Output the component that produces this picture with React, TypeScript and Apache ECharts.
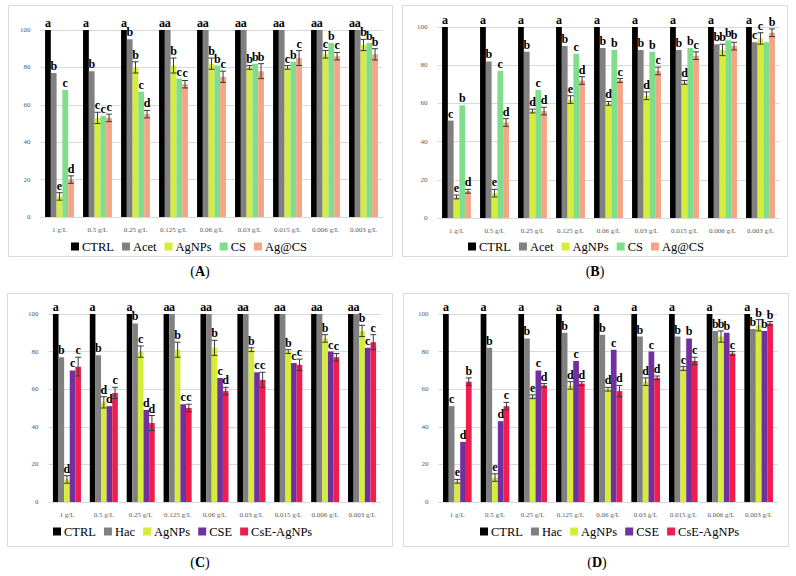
import React, { useEffect, useRef } from "react";
import * as echarts from "echarts";

const categories = ["1 g/L", "0.5 g/L", "0.25 g/L", "0.125 g/L", "0.06 g/L", "0.03 g/L", "0.015 g/L", "0.006 g/L", "0.003 g/L"];
const yTicks = [0, 20, 40, 60, 80, 100];

// Panel A
const A_names = ["CTRL", "Acet", "AgNPs", "CS", "Ag@CS"];
const A_CTRL = [100, 100, 100, 100, 100, 100, 100, 100, 100];
const A_Acet = [77, 78, 95, 100, 100, 100, 100, 100, 100];
const A_AgNPs = [11, 53, 80, 81, 82, 80, 80, 87, 92];
const A_CS = [68, 54, 67, 74, 81, 82, 83, 93, 93];
const A_AgCS = [20, 53, 55, 71, 75, 78, 85, 86, 87];
const A_AgNPs_err = [2, 3, 3, 4, 3, 1, 1, 2, 3];
const A_AgCS_err = [2, 2, 2, 2, 3, 4, 4, 2, 3];
const A_letters = [
  ["a", "a", "a", "a", "a", "a", "a", "a", "a"],
  ["b", "b", "b", "a", "a", "a", "a", "a", "a"],
  ["e", "c", "b", "b", "b", "b", "c", "c", "b"],
  ["c", "c", "c", "c", "b", "b", "b", "b", "b"],
  ["d", "c", "d", "c", "c", "b", "c", "c", "b"],
];

// Panel B
const B_names = ["CTRL", "Acet", "AgNPs", "CS", "Ag@CS"];
const B_CTRL = [100, 100, 100, 100, 100, 100, 100, 100, 100];
const B_Acet = [51, 82, 87, 90, 89, 88, 88, 91, 92];
const B_AgNPs = [11, 13, 56, 62, 60, 64, 71, 88, 94];
const B_CS = [59, 77, 67, 86, 88, 87, 89, 93, 92];
const B_AgCS = [14, 50, 56, 72, 72, 77, 85, 90, 97];
const B_AgNPs_err = [1, 2, 1, 2, 1, 2, 1, 3, 3];
const B_AgCS_err = [1, 2, 2, 2, 1, 2, 2, 2, 2];
const B_letters = [
  ["a", "a", "a", "a", "a", "a", "a", "a", "a"],
  ["c", "b", "b", "b", "b", "b", "b", "b", "c"],
  ["e", "e", "d", "e", "d", "d", "d", "b", "c"],
  ["b", "c", "c", "c", "b", "b", "b", "b", ""],
  ["d", "d", "d", "d", "c", "c", "c", "b", "b"],
];

// Panel C
const C_names = ["CTRL", "Hac", "AgNPs", "CSE", "CsE-AgNPs"];
const C_CTRL = [100, 100, 100, 100, 100, 100, 100, 100, 100];
const C_Hac = [77, 78, 95, 100, 100, 100, 100, 100, 100];
const C_AgNPs = [12, 53, 80, 81, 82, 81, 80, 87, 91];
const C_CSE = [70, 51, 49, 52, 66, 69, 74, 80, 82];
const C_CsE = [72, 58, 42, 50, 59, 65, 73, 77, 85];
const C_AgNPs_err = [2, 3, 3, 4, 4, 1, 1, 2, 3];
const C_CsE_err = [5, 3, 4, 2, 2, 4, 3, 2, 4];
const C_letters = [
  ["a", "a", "a", "a", "a", "a", "a", "a", "a"],
  ["b", "b", "b", "a", "a", "a", "a", "a", "a"],
  ["d", "d", "c", "b", "b", "b", "b", "b", "b"],
  ["c", "d", "d", "c", "c", "c", "c", "c", "c"],
  ["c", "c", "d", "c", "d", "c", "c", "c", "c"],
];

// Panel D
const D_names = ["CTRL", "Hac", "AgNPs", "CSE", "CsE-AgNPs"];
const D_CTRL = [100, 100, 100, 100, 100, 100, 100, 100, 100];
const D_Hac = [51, 82, 87, 90, 89, 88, 88, 91, 92];
const D_AgNPs = [11, 13, 56, 62, 60, 64, 71, 88, 94];
const D_CSE = [32, 43, 70, 75, 81, 80, 87, 90, 91];
const D_CsE = [64, 51, 62, 63, 59, 66, 75, 79, 95];
const D_AgNPs_err = [1, 2, 1, 2, 1, 2, 1, 3, 3];
const D_CsE_err = [2, 2, 1, 1, 3, 1, 2, 1, 1];
const D_letters = [
  ["a", "a", "a", "a", "a", "a", "a", "a", "a"],
  ["c", "b", "b", "b", "b", "b", "b", "b", "b"],
  ["e", "e", "e", "d", "d", "d", "c", "b", "b"],
  ["d", "d", "c", "c", "c", "c", "b", "b", "b"],
  ["b", "c", "d", "d", "d", "d", "c", "c", "b"],
];

const zeros = [0, 0, 0, 0, 0, 0, 0, 0, 0];

const COLORS: Record<string, string> = {
  CTRL: "#000000",
  Acet: "#808080",
  Hac: "#808080",
  AgNPs: "#d5ec3c",
  CS: "#7fdd8c",
  "Ag@CS": "#f3a586",
  CSE: "#7030a0",
  "CsE-AgNPs": "#ee1f4e",
};

const SERIF = "'Liberation Serif', 'DejaVu Serif', serif";
const GAP = 0.24;

const panels = [
  {
    label: "A", names: A_names,
    values: [A_CTRL, A_Acet, A_AgNPs, A_CS, A_AgCS],
    errors: [zeros, zeros, A_AgNPs_err, zeros, A_AgCS_err],
    letters: A_letters,
    grid: { left: 40.5, top: 30, width: 342, height: 187 },
    box: { x: 8.5, y: 5.5, w: 384, h: 251 },
    legend: { left: 71, top: 240 },
    title: { x: 200, y: 271 },
  },
  {
    label: "B", names: B_names,
    values: [B_CTRL, B_Acet, B_AgNPs, B_CS, B_AgCS],
    errors: [zeros, zeros, B_AgNPs_err, zeros, B_AgCS_err],
    letters: B_letters,
    grid: { left: 437.5, top: 27, width: 342, height: 191 },
    box: { x: 402.5, y: 5.5, w: 385, h: 251 },
    legend: { left: 468, top: 240 },
    title: { x: 595, y: 271 },
  },
  {
    label: "C", names: C_names,
    values: [C_CTRL, C_Hac, C_AgNPs, C_CSE, C_CsE],
    errors: [zeros, zeros, C_AgNPs_err, zeros, C_CsE_err],
    letters: C_letters,
    grid: { left: 48.5, top: 314, width: 332, height: 188 },
    box: { x: 7.5, y: 293.5, w: 385, h: 253 },
    legend: { left: 53, top: 525 },
    title: { x: 200, y: 562 },
  },
  {
    label: "D", names: D_names,
    values: [D_CTRL, D_Hac, D_AgNPs, D_CSE, D_CsE],
    errors: [zeros, zeros, D_AgNPs_err, zeros, D_CsE_err],
    letters: D_letters,
    grid: { left: 438.5, top: 314, width: 339, height: 188 },
    box: { x: 403.5, y: 293.5, w: 385, h: 253 },
    legend: { left: 480, top: 525 },
    title: { x: 597, y: 562 },
  },
];

function buildOption() {
  const grid: any[] = [];
  const xAxis: any[] = [];
  const yAxis: any[] = [];
  const series: any[] = [];
  const legend: any[] = [];
  const graphic: any[] = [];

  panels.forEach((p, pi) => {
    grid.push({ ...p.grid, containLabel: false });
    xAxis.push({
      type: "category",
      gridIndex: pi,
      data: categories,
      axisLine: { show: true, lineStyle: { color: "#d9d9d9", width: 1 } },
      axisTick: { show: false },
      axisLabel: { interval: 0, fontSize: 7, color: "#595959", fontFamily: SERIF, margin: 9 },
      splitLine: { show: false },
    });
    yAxis.push({
      type: "value",
      gridIndex: pi,
      min: yTicks[0],
      max: yTicks[yTicks.length - 1],
      interval: 20,
      axisLine: { show: false },
      axisTick: { show: false },
      axisLabel: { fontSize: 7, color: "#595959", fontFamily: SERIF, margin: 10 },
      splitLine: { show: true, lineStyle: { color: "#d9d9d9", width: 1 } },
    });
    p.names.forEach((name, si) => {
      series.push({
        type: "bar",
        name,
        xAxisIndex: pi,
        yAxisIndex: pi,
        data: p.values[si],
        barGap: "0%",
        barCategoryGap: GAP * 100 + "%",
        itemStyle: { color: COLORS[name] },
        emphasis: { disabled: true },
      });
    });
    series.push({
      type: "custom",
      name: "err" + p.label,
      xAxisIndex: pi,
      yAxisIndex: pi,
      clip: false,
      z: 10,
      data: categories.map((_, ci) => [ci, 0]),
      encode: { x: 0, y: 1 },
      renderItem: (params: any, api: any) => {
        const ci = api.value(0);
        const band = api.size([1, 0])[0];
        const bw = (band * (1 - GAP)) / 5;
        const cx = api.coord([ci, 0])[0];
        const children: any[] = [];
        for (let si = 0; si < 5; si++) {
          const v = p.values[si][ci];
          const e = p.errors[si][ci];
          const x = cx + (si - 2) * bw;
          const yTop = api.coord([ci, v + e])[1];
          if (e > 0) {
            const yBot = api.coord([ci, v - e])[1];
            const lw = { stroke: "#3a3a3a", lineWidth: 1 };
            children.push({ type: "line", shape: { x1: x, y1: yTop, x2: x, y2: yBot }, style: lw });
            children.push({ type: "line", shape: { x1: x - 3, y1: yTop, x2: x + 3, y2: yTop }, style: lw });
            children.push({ type: "line", shape: { x1: x - 3, y1: yBot, x2: x + 3, y2: yBot }, style: lw });
          }
          const letter = p.letters[si][ci];
          if (letter) {
            children.push({
              type: "text",
              style: {
                text: letter,
                x,
                y: yTop - 1,
                align: "center",
                verticalAlign: "bottom",
                fill: "#000",
                fontSize: 12,
                fontWeight: "bold",
                fontFamily: SERIF,
              },
            });
          }
        }
        return { type: "group", children };
      },
    });
    legend.push({
      data: p.names,
      left: p.legend.left,
      top: p.legend.top,
      icon: "rect",
      itemWidth: 8,
      itemHeight: 8,
      itemGap: 8,
      selectedMode: false,
      textStyle: { fontSize: 12.5, color: "#000", fontFamily: SERIF, padding: [0, 0, 0, -2] },
      padding: 0,
    });
    graphic.push({
      type: "rect",
      shape: { x: p.box.x, y: p.box.y, width: p.box.w, height: p.box.h },
      style: { fill: "none", stroke: "#d9d9d9", lineWidth: 1 },
      silent: true,
    });
    graphic.push({
      type: "text",
      x: p.title.x,
      y: p.title.y,
      style: {
        text: "{p|(}{b|" + p.label + "}{p|)}",
        align: "center",
        verticalAlign: "middle",
        fill: "#000",
        fontSize: 14,
        fontFamily: SERIF,
        rich: {
          p: { fontSize: 14, fontFamily: SERIF, fill: "#000" },
          b: { fontSize: 14, fontWeight: "bold", fontFamily: SERIF, fill: "#000" },
        },
      },
      silent: true,
    });
  });

  return {
    animation: false,
    backgroundColor: "#ffffff",
    grid,
    xAxis,
    yAxis,
    series,
    legend,
    graphic,
    tooltip: { show: false },
  };
}

export default function App() {
  const ref = useRef<HTMLDivElement>(null);
  useEffect(() => {
    document.body.style.margin = "0";
    if (!ref.current) return;
    const chart = echarts.init(ref.current, undefined, { renderer: "svg" });
    chart.setOption(buildOption() as any);
    return () => chart.dispose();
  }, []);
  return <div ref={ref} style={{ width: 796, height: 576 }} />;
}
